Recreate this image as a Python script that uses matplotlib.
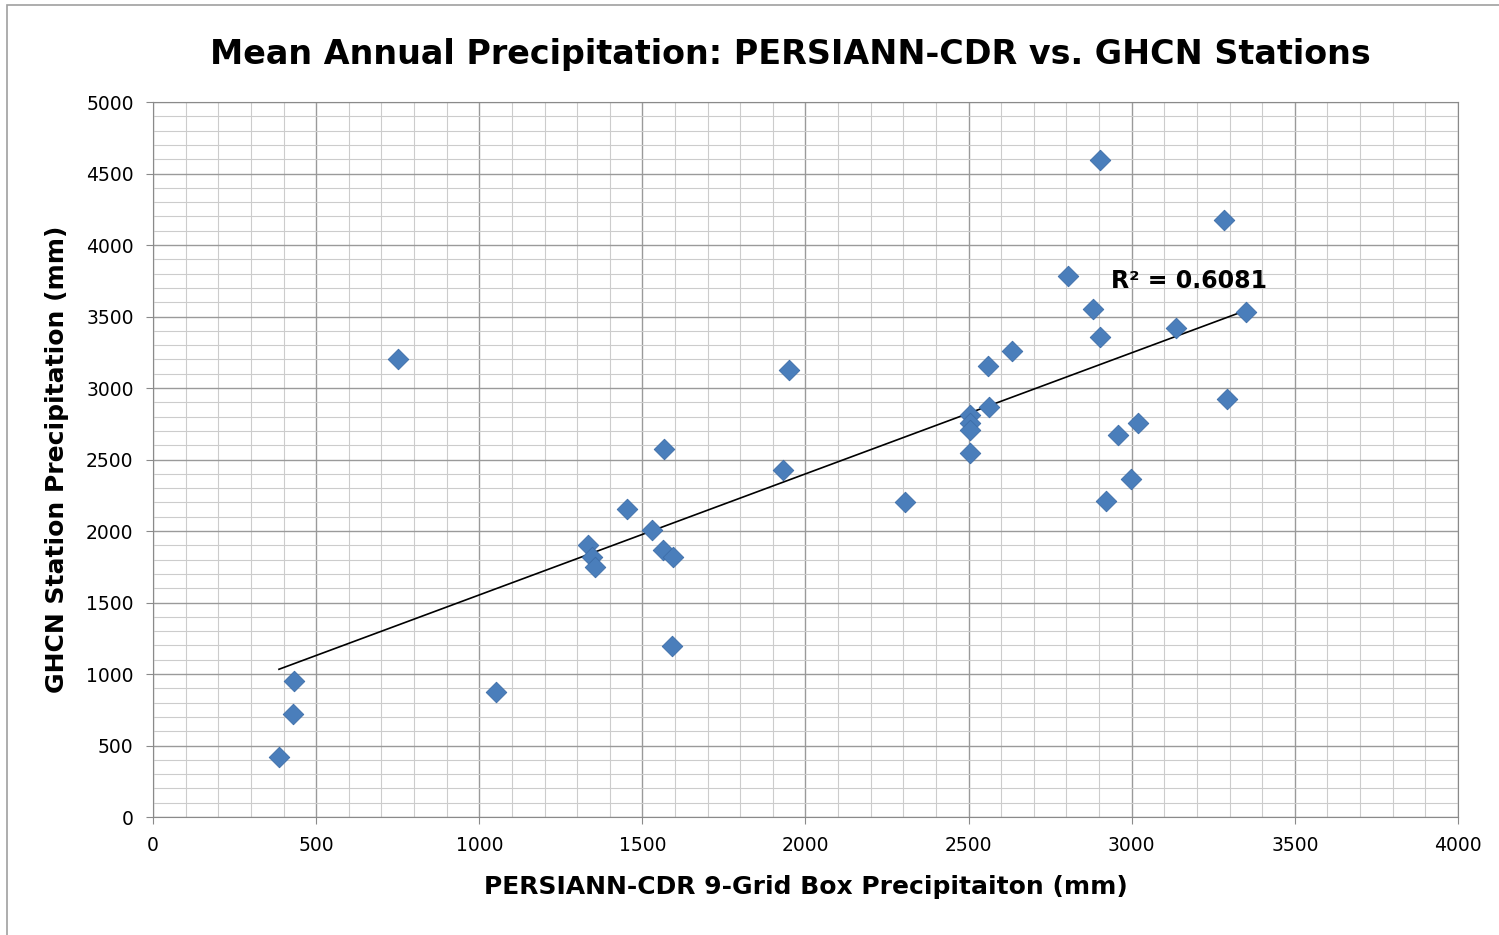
#!/usr/bin/env python3
import numpy as np
import matplotlib

matplotlib.use("Agg")
import matplotlib.pyplot as plt
from matplotlib.patches import Rectangle
from matplotlib.ticker import MultipleLocator

# PERSIANN-CDR 9-grid box precipitation (mm) vs GHCN station precipitation (mm)
persiann = [751, 432, 429, 386, 1051, 1333, 1346, 1355, 1453, 1530, 1563, 1594,
            1566, 1591, 1931, 2305, 1949, 2504, 2504, 2504, 2504, 2562, 2560,
            2633, 2805, 2881, 2903, 2958, 3019, 2998, 2921, 3136, 3292, 3350,
            2903, 3283]
ghcn = [3203, 951, 720, 420, 874, 1902, 1818, 1748, 2154, 2007, 1867, 1818,
        2573, 1196, 2427, 2203, 3126, 2811, 2755, 2706, 2545, 2867, 3154,
        3259, 3783, 3552, 3357, 2671, 2755, 2364, 2210, 3420, 2923, 3531,
        4594, 4175]
r2_label = "R² = 0.6081"

font = "DejaVu Sans"

fig = plt.figure(figsize=(14.99, 9.35), dpi=100)
fig.patches.append(Rectangle((0.005, -0.01), 1.0, 1.005, transform=fig.transFigure,
                             fill=False, edgecolor="#a0a0a0", linewidth=1.2))
ax = fig.add_axes([0.1021, 0.1262, 0.8705, 0.7647])

ax.set_xlim(0, 4000)
ax.set_ylim(0, 5000)
ax.xaxis.set_major_locator(MultipleLocator(500))
ax.xaxis.set_minor_locator(MultipleLocator(100))
ax.yaxis.set_major_locator(MultipleLocator(500))
ax.yaxis.set_minor_locator(MultipleLocator(100))
ax.grid(which="major", color="#9a9a9a", linewidth=1.0)
ax.grid(which="minor", color="#cccccc", linewidth=0.8)
ax.set_axisbelow(True)
for s in ax.spines.values():
    s.set_color("#8a8a8a")
ax.tick_params(which="major", length=5, color="#8a8a8a", labelsize=13.5, pad=9)
ax.tick_params(which="minor", length=0)
for lab in ax.get_xticklabels() + ax.get_yticklabels():
    lab.set_fontfamily(font)

# linear trendline over the data range
xs = np.array(persiann, dtype=float)
ys = np.array(ghcn, dtype=float)
m, b = np.polyfit(xs, ys, 1)
tx = np.array([xs.min(), xs.max()])
ax.plot(tx, m * tx + b, color="black", linewidth=1.2, zorder=2)

ax.scatter(xs, ys, marker="D", s=110, color="#4a7ebb", edgecolors="#3d6da8",
           linewidths=0.6, zorder=3)

ax.text(2935, 3700, r2_label, fontsize=17, fontweight="bold", fontfamily=font)

ax.set_xlabel("PERSIANN-CDR 9-Grid Box Precipitaiton (mm)", fontsize=18,
              fontweight="bold", fontfamily=font, labelpad=14)
ax.set_ylabel("GHCN Station Precipitation (mm)", fontsize=18,
              fontweight="bold", fontfamily=font, labelpad=12)
fig.text(0.527, 0.942, "Mean Annual Precipitation: PERSIANN-CDR vs. GHCN Stations",
         ha="center", va="center", fontsize=24, fontweight="bold", fontfamily=font)

fig.savefig("out.png", dpi=100)
